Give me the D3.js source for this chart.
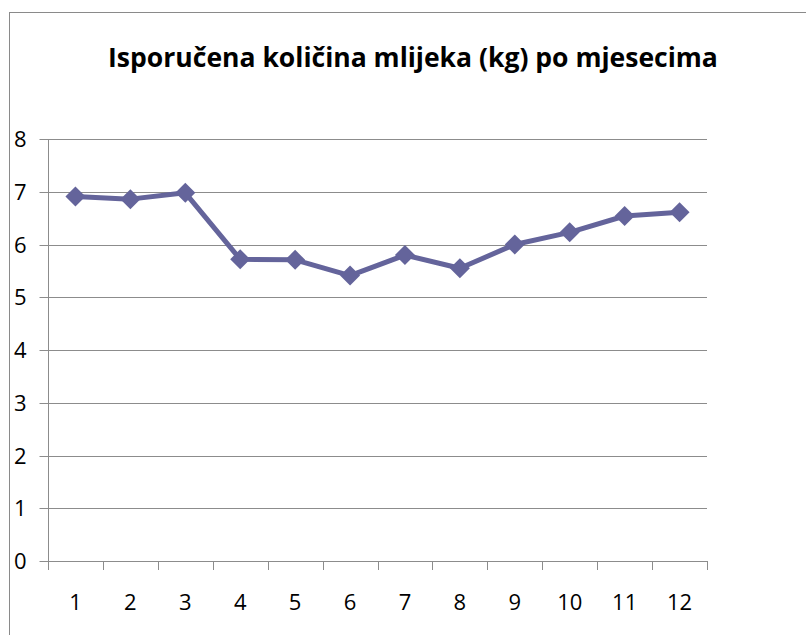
<!DOCTYPE html>
<html><head><meta charset="utf-8">
<script src="https://cdn.jsdelivr.net/npm/d3@7"></script>
<style>body{margin:0;background:#fff}svg{display:block}</style>
</head><body>
<svg id="c" width="806" height="635"></svg>
<script>
const title = "Isporučena količina mlijeka (kg) po mjesecima";
const months = ["1","2","3","4","5","6","7","8","9","10","11","12"];
const values = [6.91, 6.86, 6.98, 5.72, 5.71, 5.41, 5.80, 5.55, 6.00, 6.23, 6.54, 6.61];
const yTicks = [0,1,2,3,4,5,6,7,8];

(function(){
const svg = d3.select("#c");
const font = "'Open Sans', 'Liberation Sans', sans-serif";
const pL = 48, pR = 707, pT = 139, pB = 561;

// outer chart border (extends past right/bottom edges as in reference)
svg.append("rect").attr("x",9.5).attr("y",12.5).attr("width",830).attr("height",650)
  .attr("fill","none").attr("stroke","#8a8a8a").attr("stroke-width",1);

const x = d3.scaleBand().domain(months).range([pL, pR]).padding(0);
const y = d3.scaleLinear().domain([0,8]).range([pB, pT]);

// gridlines
svg.append("g").selectAll("line").data(yTicks.filter(d=>d>0)).join("line")
  .attr("x1",pL).attr("x2",pR)
  .attr("y1",d=>Math.round(y(d))+0.5).attr("y2",d=>Math.round(y(d))+0.5)
  .attr("stroke","#8c8c8c").attr("stroke-width",1);

// y axis
const yAxis = svg.append("g").attr("transform",`translate(${pL+0.5},0)`)
  .call(d3.axisLeft(y).tickValues(yTicks).tickSize(9).tickPadding(0).tickFormat(d3.format("d")));
yAxis.select(".domain").attr("stroke","#8c8c8c").attr("d",`M0,${pT}V${pB}`);
yAxis.selectAll(".tick line").attr("stroke","#8c8c8c");
yAxis.selectAll(".tick text").attr("x",-22).attr("dy","0.36em")
  .style("font-family",font).style("font-size","22px").attr("fill","#000");
yAxis.selectAll(".tick").attr("transform",d=>`translate(0,${Math.round(y(d))+0.5})`);

// x axis
const xAxis = svg.append("g").attr("transform",`translate(0,${pB+0.5})`)
  .call(d3.axisBottom(x).tickSize(0).tickPadding(0));
xAxis.select(".domain").attr("stroke","#8c8c8c").attr("d",`M${pL},0H${pR}`);
xAxis.selectAll(".tick text").attr("y",48).attr("dy",0)
  .style("font-family",font).style("font-size","22px").attr("fill","#000");
// category boundary tick marks
const bounds = months.map(m=>x(m)).concat([pR]);
svg.append("g").selectAll("line").data(bounds).join("line")
  .attr("x1",d=>Math.round(d)+0.5).attr("x2",d=>Math.round(d)+0.5)
  .attr("y1",pB).attr("y2",pB+9)
  .attr("stroke","#8c8c8c").attr("stroke-width",1);

// line
const cx = (d,i)=>x(months[i])+x.bandwidth()/2;
const line = d3.line().x((d,i)=>cx(d,i)).y(d=>y(d));
const color = "#64649b";
svg.append("path").datum(values).attr("d",line)
  .attr("fill","none").attr("stroke",color).attr("stroke-width",5).attr("stroke-linejoin","round");

// diamond markers
const sym = d3.symbol().type(d3.symbolSquare).size(200);
svg.append("g").selectAll("path").data(values).join("path")
  .attr("d",sym)
  .attr("transform",(d,i)=>`translate(${cx(d,i)},${y(d)}) rotate(45)`)
  .attr("fill",color);

// title
const t = svg.append("text").attr("x",413).attr("y",67).attr("text-anchor","middle")
  .style("font-family",font).style("font-weight","bold").style("font-size","24px")
  .attr("fill","#000").text(title);
const w = t.node().getComputedTextLength();
t.style("font-size",(24*610/w).toFixed(2)+"px");
})();
</script>
</body></html>
